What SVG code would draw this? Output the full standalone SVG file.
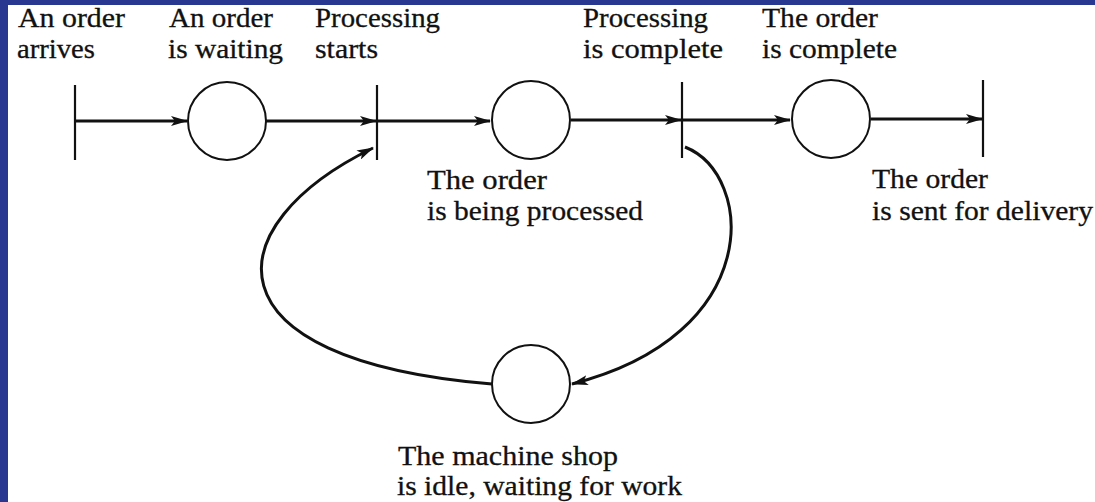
<svg xmlns="http://www.w3.org/2000/svg" width="1095" height="502" viewBox="0 0 1095 502">
<style>
.lbl{font-family:"Liberation Serif","Times New Roman",serif;font-size:27px;fill:#111;stroke:#111;stroke-width:0.3}
.place{fill:#fff;stroke:#111;stroke-width:2}
.trans{stroke:#111;stroke-width:2.2}
.arc{fill:none;stroke:#111;stroke-width:3}
</style>
<defs>
<marker id="ah" markerWidth="17" markerHeight="10" refX="16" refY="5" orient="auto" markerUnits="userSpaceOnUse">
<path d="M0,0 L17,5 L0,10 L4,5 Z" fill="#111"/>
</marker>
</defs>
<rect x="0" y="0" width="1095" height="502" fill="#283891"/>
<rect x="8" y="5" width="1087" height="497" fill="#fff"/>

<g id="connectors">
<path class="arc" d="M75,121 L187,121" marker-end="url(#ah)"/>
<path class="arc" d="M266,121 L376,121" marker-end="url(#ah)"/>
<path class="arc" d="M378,121 L490,121" marker-end="url(#ah)"/>
<path class="arc" d="M571,120 L681,120" marker-end="url(#ah)"/>
<path class="arc" d="M683,120 L790,120" marker-end="url(#ah)"/>
<path class="arc" d="M871,119 L982,119" marker-end="url(#ah)"/>
<path class="arc" d="M685,147 C755,175 765,335 572,384" marker-end="url(#ah)"/>
<path class="arc" d="M492,384 C200,360 215,225 373,148" marker-end="url(#ah)"/>
</g>

<g id="t1"><line class="trans" x1="75" y1="85" x2="75" y2="160"/></g>
<g id="t2"><line class="trans" x1="377" y1="85" x2="377" y2="160"/></g>
<g id="t3"><line class="trans" x1="682" y1="82" x2="682" y2="158"/></g>
<g id="t4"><line class="trans" x1="983" y1="80" x2="983" y2="157"/></g>

<g id="p1"><circle class="place" cx="227" cy="121" r="39"/></g>
<g id="p2"><circle class="place" cx="531" cy="120" r="39"/></g>
<g id="p3"><circle class="place" cx="831" cy="119" r="39"/></g>
<g id="p4"><circle class="place" cx="531" cy="384" r="39"/></g>

<g id="labels">
<text class="lbl" x="18" y="27" textLength="107" lengthAdjust="spacingAndGlyphs">An order</text>
<text class="lbl" x="17" y="58" textLength="78" lengthAdjust="spacingAndGlyphs">arrives</text>
<text class="lbl" x="169" y="27" textLength="104" lengthAdjust="spacingAndGlyphs">An order</text>
<text class="lbl" x="168" y="58" textLength="115" lengthAdjust="spacingAndGlyphs">is waiting</text>
<text class="lbl" x="315" y="27" textLength="125" lengthAdjust="spacingAndGlyphs">Processing</text>
<text class="lbl" x="315" y="58" textLength="63" lengthAdjust="spacingAndGlyphs">starts</text>
<text class="lbl" x="583" y="27" textLength="125" lengthAdjust="spacingAndGlyphs">Processing</text>
<text class="lbl" x="583" y="58" textLength="140" lengthAdjust="spacingAndGlyphs">is complete</text>
<text class="lbl" x="762" y="27" textLength="116" lengthAdjust="spacingAndGlyphs">The order</text>
<text class="lbl" x="762" y="58" textLength="135" lengthAdjust="spacingAndGlyphs">is complete</text>
<text class="lbl" x="427" y="189" textLength="120" lengthAdjust="spacingAndGlyphs">The order</text>
<text class="lbl" x="427" y="220" textLength="216" lengthAdjust="spacingAndGlyphs">is being processed</text>
<text class="lbl" x="872" y="188" textLength="116" lengthAdjust="spacingAndGlyphs">The order</text>
<text class="lbl" x="872" y="220" textLength="221" lengthAdjust="spacingAndGlyphs">is sent for delivery</text>
<text class="lbl" x="398" y="465" textLength="220" lengthAdjust="spacingAndGlyphs">The machine shop</text>
<text class="lbl" x="397" y="495" textLength="285" lengthAdjust="spacingAndGlyphs">is idle, waiting for work</text>
</g>
</svg>
